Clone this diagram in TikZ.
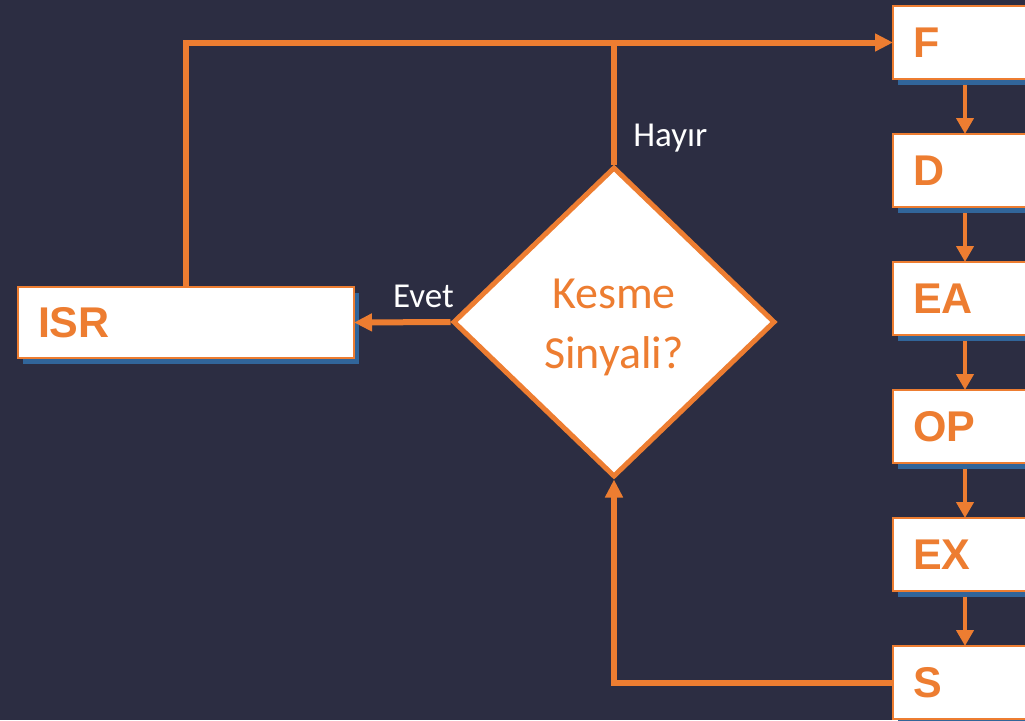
\documentclass[tikz,border=0pt]{standalone}
\usepackage{fontspec}
\setmainfont{Carlito}
\newfontfamily\boxfont{Liberation Sans}
\usepackage{tikz}
\usetikzlibrary{arrows.meta}
\usetikzlibrary{positioning}
\usetikzlibrary{shapes.geometric}
\usetikzlibrary{shadows}

\definecolor{bgnavy}{HTML}{2C2D42}
\definecolor{kesmeorange}{HTML}{ED7D31}
\definecolor{shadowblue}{HTML}{31659A}

\tikzset{
  stage/.style={draw=kesmeorange, line width=2.5pt, fill=white, outer sep=0pt,
    general shadow={fill=shadowblue, shadow xshift=5pt, shadow yshift=-6pt},
    minimum height=73pt, text width=104pt, inner xsep=20pt, inner ysep=0pt,
    align=left, text=kesmeorange, font=\boxfont\bfseries\fontsize{43}{45}\selectfont},
  flow/.style={draw=kesmeorange, line width=6pt},
  step arrow/.style={draw=kesmeorange, line width=4pt, -{Triangle[length=16pt,width=17pt]}},
  answer/.style={text=white, font=\fontsize{35}{37}\selectfont}
}

\begin{document}
\begin{tikzpicture}[x=1pt, y=-1pt]
        \fill[bgnavy] (0,0) rectangle (1025,720);
        \useasboundingbox (0,0) rectangle (1025,720);
        % pipeline stages
        \node[stage, anchor=north west] at (893,6) (f){F};
        \node[stage, below=55pt of f] (d){D};
        \node[stage, below=55pt of d] (ea){EA};
        \node[stage, below=55pt of ea] (op){OP};
        \node[stage, below=55pt of op] (ex){EX};
        \node[stage, below=55pt of ex] (s){S};
        \node[stage, text width=296pt, minimum height=71pt] at (186,322.5) (isr){ISR};
        \node[diamond, draw=kesmeorange, line width=5pt, fill=white, inner sep=0pt,
              minimum width=322pt, minimum height=310pt, align=center, text=kesmeorange,
              font=\fontsize{46}{60}\selectfont] at (614,322) (kesme){};
        \node[text=kesmeorange, align=center, font=\fontsize{46}{60}\selectfont]
              at ([yshift=-5pt]kesme.center) (soru){Kesme\\Sinyali?};
        \foreach \a/\b in {f/d, d/ea, ea/op, op/ex, ex/s}
          \draw[step arrow] ([yshift=-6pt]\a.south) -- (\b.north);
        \draw[flow, -{Triangle[length=18pt,width=17pt]}] (isr.north) |- (f.west);
        \draw[flow] (kesme.north) -- node[answer, pos=0.22, right, xshift=13pt] {Hayır} (kesme.north |- f.west);
        \draw[flow, -{Triangle[length=18pt,width=17pt]}] (kesme.west) -- node[answer, pos=0.28, above, yshift=8pt] {Evet} (isr.east);
        \draw[flow, -{Triangle[length=18pt,width=17pt]}] (s.west) -| (kesme.south);
      \end{tikzpicture}
\end{document}
